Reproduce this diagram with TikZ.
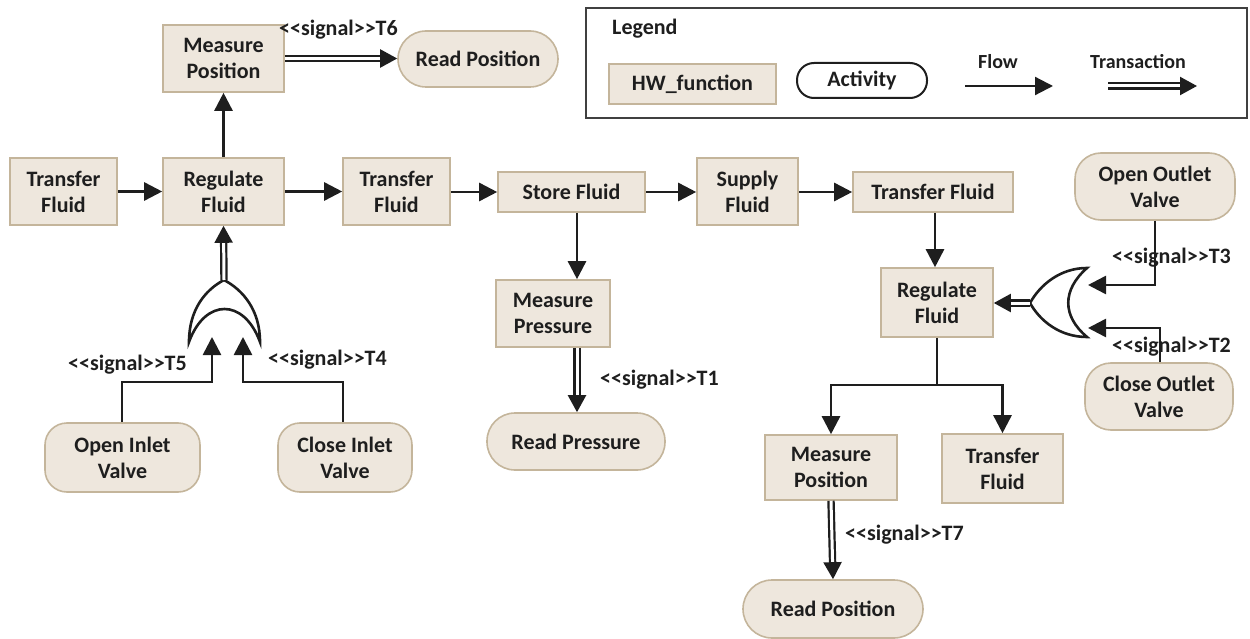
\documentclass[tikz,border=0pt]{standalone}
\usepackage{fontspec}
\setmainfont{Carlito}
\usetikzlibrary{arrows.meta,calc}

\definecolor{hwfill}{RGB}{238,231,221}
\definecolor{hwline}{RGB}{196,181,155}
\definecolor{ink}{RGB}{30,30,30}

\tikzset{
  base/.style={font=\bfseries\fontsize{22}{26}\selectfont, text=ink, align=center, inner sep=0pt},
  hwbox/.style={base, draw=hwline, fill=hwfill, line width=1.6pt, minimum width=#1},
  actbox/.style={base, draw=hwline, fill=hwfill, line width=1.6pt, rounded corners=26pt, minimum width=#1},
  flow/.style={draw=ink, line width=2.6pt, -{Triangle[length=18pt,width=18pt]}},
  trans/.style={draw=ink, double=white, double distance=3pt, line width=2.2pt, -{Triangle[length=17pt,width=18pt]}},
  gate/.style={draw=ink, line width=2.6pt, fill=white},
  siglab/.style={font=\bfseries\fontsize{22}{25}\selectfont, text=ink, inner sep=0pt},
  leglab/.style={font=\bfseries\fontsize{20}{24}\selectfont, text=ink, inner sep=0pt},
}

\begin{document}
\begin{tikzpicture}[x=1pt, y=-1pt]
\useasboundingbox (0,0) rectangle (1250,639);

% ---------- legend ----------
\node[draw=ink!85, line width=2.4pt, minimum width=661pt, minimum height=110pt, inner sep=0pt] (legend) at (916.5,63) {};
\node[base, anchor=west] (legtitle) at (612,29) {Legend};
\node[hwbox=167pt, minimum height=40pt] (leghw) at (692.5,84) {HW\_function};
\node[base, draw=ink, fill=white, line width=2pt, rounded corners=17pt, minimum width=130pt, minimum height=35pt] (legact) at (862,80.5) {Activity};
\coordinate (flowA) at (965,86);
\coordinate (flowB) at (1053,86);
\draw[flow, line width=2.2pt] (flowA) -- (flowB);
\node[leglab] (flowlab) at (998,62) {Flow};
\coordinate (transA) at (1108,86);
\coordinate (transB) at (1197,86);
\draw[trans] (transA) -- (transB);
\node[leglab] (translab) at (1138,62) {Transaction};

% ---------- main chain ----------
\node[hwbox=107pt, minimum height=67pt] (tf1) at (63.5,191.5) {Transfer\\Fluid};
\node[hwbox=121pt, minimum height=67pt] (rf1) at (223.5,191.5) {Regulate\\Fluid};
\node[hwbox=121pt, minimum height=67pt] (mpos1) at (223.5,58.5) {Measure\\Position};
\node[actbox=160pt, minimum height=56pt, rounded corners=28pt] (rpos1) at (478,59) {Read Position};
\node[hwbox=107pt, minimum height=67pt] (tf2) at (396.5,191.5) {Transfer\\Fluid};
\node[hwbox=147pt, minimum height=40pt] (sf) at (571.5,192) {Store Fluid};
\node[hwbox=101pt, minimum height=67pt] (sup) at (747.5,191.5) {Supply\\Fluid};
\node[hwbox=160pt, minimum height=40pt] (tf3) at (933,192) {Transfer Fluid};

\draw[flow] (tf1.east) -- (rf1.west);
\draw[flow] (rf1.east) -- (tf2.west);
\draw[flow] (tf2.east |- sf.west) -- (sf.west);
\draw[flow] (sf.east) -- (sup.west |- sf.east);
\draw[flow] (sup.east |- tf3.west) -- (tf3.west);
\draw[flow] (rf1.north) -- (mpos1.south);
\draw[trans] (mpos1.east) -- (rpos1.west |- mpos1.east);
\node[siglab, anchor=west] (t6) at (279,30) {<{}<signal>{}>T6};

% ---------- pressure branch ----------
\node[hwbox=114pt, minimum height=67pt] (mpres) at (553,313.5) {Measure\\Pressure};
\node[actbox=178pt, minimum height=57pt, rounded corners=28pt] (rpres) at (576,441.5) {Read Pressure};
\coordinate (px) at (577,0);
\draw[flow] (sf.south -| px) -- (mpres.north -| px);
\draw[trans] (mpres.south -| px) -- (rpres.north -| px);
\node[siglab, anchor=west] (t1) at (600,380) {<{}<signal>{}>T1};

% ---------- inlet valves and OR gate ----------
\node[actbox=155pt, minimum height=69pt, rounded corners=22pt] (oiv) at (122.5,457.5) {Open Inlet\\Valve};
\node[actbox=134pt, minimum height=69pt, rounded corners=22pt] (civ) at (345,457.5) {Close Inlet\\Valve};

\coordinate (or1top) at (224,280);
\coordinate (or1l) at (189,342);
\coordinate (or1r) at (260,342);
\draw[gate] (or1l) .. controls (189,310) and (205,290) .. (or1top)
  .. controls (243,290) and (260,310) .. (or1r)
  .. controls (244,298) and (205,298) .. (or1l) -- cycle;
\draw[trans] (or1top) -- (rf1.south);

\coordinate (or1inL) at (212,337);
\coordinate (or1inR) at (243,337);
\draw[flow] (oiv.north -| 122,0) |- (212,382) -- (or1inL);
\draw[flow] (civ.north -| 343,0) |- (243,382) -- (or1inR);
\node[siglab, anchor=west] (t5) at (68,365) {<{}<signal>{}>T5};
\node[siglab, anchor=west] (t4) at (268,360) {<{}<signal>{}>T4};

% ---------- outlet branch ----------
\node[hwbox=112pt, minimum height=69pt] (rf2) at (937,302.5) {Regulate\\Fluid};
\node[actbox=160pt, minimum height=67pt, rounded corners=26pt] (oov) at (1155,186.5) {Open Outlet\\Valve};
\node[actbox=148pt, minimum height=67pt, rounded corners=26pt] (cov) at (1159,396.5) {Close Outlet\\Valve};
\node[hwbox=132pt, minimum height=65pt] (mpos2) at (831,467.5) {Measure\\Position};
\node[hwbox=121pt, minimum height=69pt] (tf4) at (1002.5,468.5) {Transfer\\Fluid};
\node[actbox=180pt, minimum height=58pt, rounded corners=29pt] (rpos2) at (833,609) {Read Position};

\coordinate (qx) at (935,0);
\draw[flow] (tf3.south -| qx) -- (rf2.north -| qx);
\coordinate (split) at (937,385);
\draw[line width=2.6pt, draw=ink] (rf2.south) -- (split);
\draw[flow] (split) -| (mpos2.north);
\draw[flow] (split) -| (tf4.north);
\draw[trans] (mpos2.south) -- (rpos2.north);
\node[siglab, anchor=west] (t7) at (845,535) {<{}<signal>{}>T7};

\coordinate (or2tip) at (1030,303);
\coordinate (or2t) at (1087,268);
\coordinate (or2b) at (1087,337);
\draw[gate] (or2t) .. controls (1060,268) and (1040,285) .. (or2tip)
  .. controls (1040,321) and (1060,337) .. (or2b)
  .. controls (1062,316) and (1062,290) .. (or2t) -- cycle;
\draw[trans] (or2tip) -- (rf2.east |- or2tip);

\coordinate (or2inT) at (1088,285);
\coordinate (or2inB) at (1088,328);
\draw[flow] (oov.south -| 1155,0) |- (or2inT);
\draw[flow] (cov.north -| 1160,0) |- (or2inB);
\node[siglab, anchor=west] (t3) at (1112,258) {<{}<signal>{}>T3};
\node[siglab, anchor=west] (t2) at (1112,347) {<{}<signal>{}>T2};

\end{tikzpicture}
\end{document}
